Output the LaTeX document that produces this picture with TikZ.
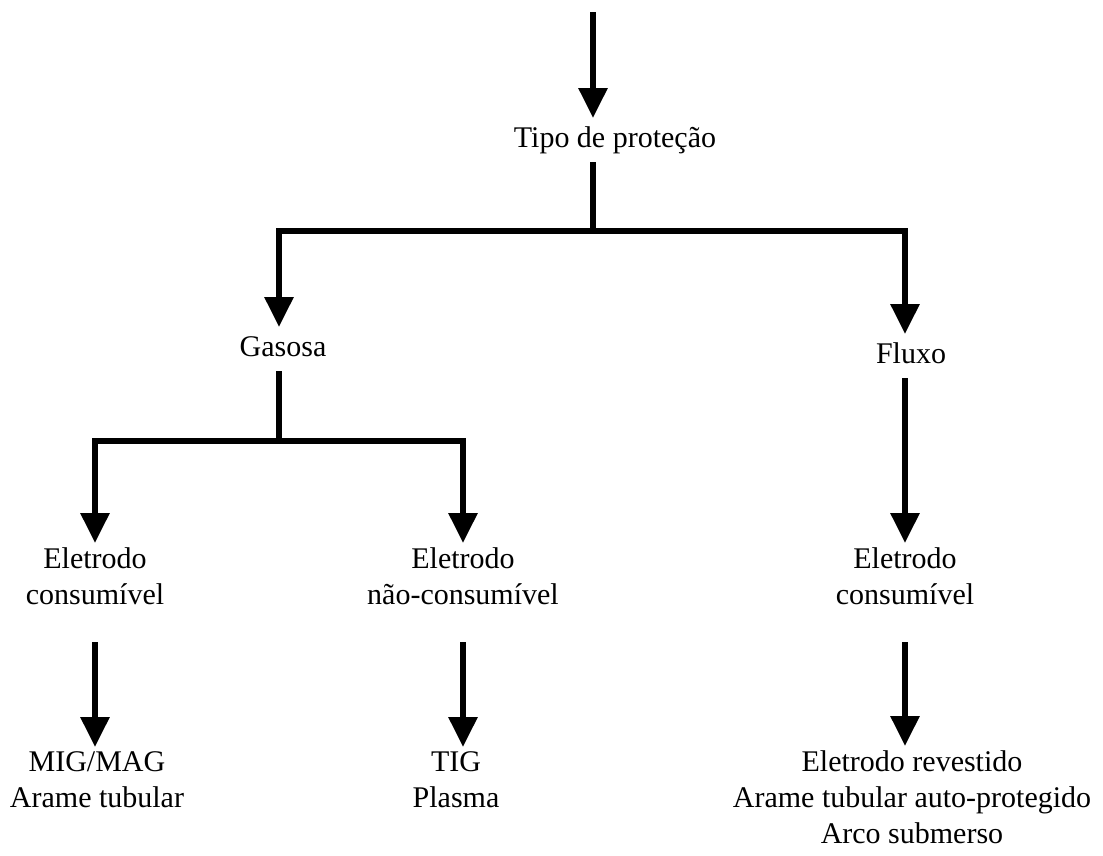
\documentclass[tikz,border=0pt]{standalone}
\usepackage{fontspec}
\setmainfont{Liberation Serif}
\usetikzlibrary{arrows.meta,positioning,calc}

\begin{document}
\begin{tikzpicture}[
        x=1pt, y=-1pt,
        lbl/.style={anchor=north, align=center, inner xsep=2pt, inner ysep=4pt,
            font=\fontsize{30}{36}\selectfont,
            execute at begin node=\strut, execute at end node=\strut},
        conn/.style={line width=6pt, draw=black},
        arr/.style={conn, -{Triangle[length=30pt, width=28pt]}}
    ]
    \useasboundingbox (0,0) rectangle (1103,855);

    % Texts
    \node[lbl] (tipo) at (615,118) {Tipo de proteção};
    \node[lbl] (gasosa) at (283,327) {Gasosa};
    \node[lbl] (fluxo) at (911,334) {Fluxo};
    \node[lbl] (eletcons) at (95,543) {Eletrodo\\consumível};
    \node[lbl] (eletnao) at (463,543) {Eletrodo\\não-consumível};
    \node[lbl] (eletflux) at (905,543) {Eletrodo\\consumível};
    \node[lbl] (migmag) at (97,747) {MIG/MAG\\Arame tubular};
    \node[lbl] (tig) at (456,747) {TIG\\Plasma};
    \node[lbl] (revest) at (912,746) {Eletrodo revestido\\Arame tubular auto-protegido\\Arco submerso};

    % Junctions
    \coordinate (start) at (593,12);
    \coordinate (split) at (593,231);
    \coordinate (splitgas) at (279,441);

    \draw[arr] (start) -- ([xshift=-22pt]tipo.north);
    \draw[conn] ([xshift=-22pt]tipo.south) -- (split);
    \draw[arr] (split) -| ([xshift=-4pt]gasosa.north);
    \draw[arr] (split) -| ([xshift=-6pt]fluxo.north);

    \draw[conn] ([xshift=-4pt]gasosa.south) -- (splitgas);
    \draw[arr] (splitgas) -| (eletcons.north);
    \draw[arr] (splitgas) -| (eletnao.north);
    \draw[arr] ([xshift=-6pt]fluxo.south) -- (eletflux.north);

    \draw[arr, shorten <=23pt] (eletcons.south) -- (eletcons.south |- migmag.north);
    \draw[arr, shorten <=23pt] (eletnao.south) -- (eletnao.south |- tig.north);
    \draw[arr, shorten <=23pt] (eletflux.south) -- (eletflux.south |- revest.north);
\end{tikzpicture}
\end{document}
